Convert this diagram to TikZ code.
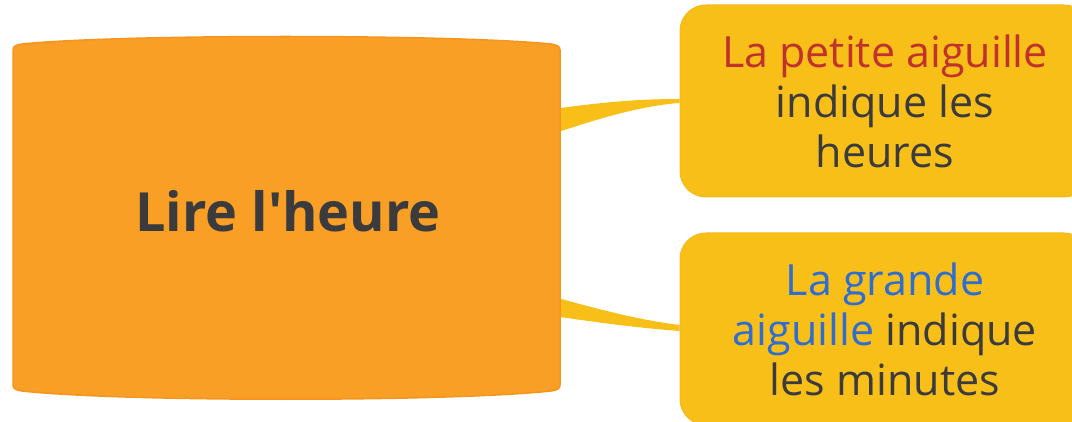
\documentclass[tikz,border=0pt]{standalone}
\usepackage{fontspec}
\setmainfont{Open Sans}
\usetikzlibrary{calc}
\definecolor{orangeF}{HTML}{F99F26}
\definecolor{orangeD}{HTML}{F6951E}
\definecolor{boxY}{HTML}{F8BF19}
\definecolor{boxD}{HTML}{F5BA1C}
\definecolor{txt}{HTML}{3B3B3D}
\definecolor{redT}{HTML}{C2322C}
\definecolor{blueT}{HTML}{2F6DD0}
\begin{document}
\begin{tikzpicture}[x=1pt,y=-1pt,
  box/.style={rounded corners=26pt, minimum width=410pt, minimum height=192pt,
    fill=boxY, draw=boxD, line width=1pt, align=center, text=txt,
    font=\fontsize{43}{50}\selectfont, inner sep=0pt},
  link/.style={fill=boxY},
  central/.style={fill=orangeF, draw=orangeD, line width=1.5pt},
  ctext/.style={font=\bfseries\fontsize{54}{60}\selectfont, text=txt, anchor=base, inner sep=0pt}]
\useasboundingbox (0,0) rectangle (1072,422);
\coordinate (cR) at (560,217);
\node[box] (b1) at (885,101) {{\color{redT}La petite aiguille}\\indique les\\heures};
\node[box] (b2) at (885,329) {{\color{blueT}La grande}\\{\color{blueT}aiguille} indique\\les minutes};
% connectors
\fill[link] ($(cR)+(-20,-106)$) .. controls ($(cR)+(40,-115)$) and ($(b1.west)+(-40,-2)$) .. ($(b1.west)+(0,-2)$)
  -- ($(b1.west)+(0,2)$) .. controls ($(b1.west)+(-40,5)$) and ($(cR)+(40,-99)$) .. ($(cR)+(-20,-79)$) -- cycle;
\fill[link] ($(cR)+(-20,76)$) .. controls ($(cR)+(40,93)$) and ($(b2.west)+(-40,-9)$) .. ($(b2.west)+(0,-4)$)
  -- ($(b2.west)+(0,2)$) .. controls ($(b2.west)+(-40,-1)$) and ($(cR)+(40,106)$) .. ($(cR)+(-20,97)$) -- cycle;
% central shape
\path[central] (13,50) .. controls (13,46) and (16,45) .. (22,44)
  .. controls (120,34) and (450,34) .. (551,44)
  .. controls (557,45) and (560,46) .. (560,50) -- (560,385)
  .. controls (560,389) and (557,390) .. (551,391)
  .. controls (450,402) and (120,402) .. (22,391)
  .. controls (16,390) and (13,389) .. (13,385) -- cycle;
\node[ctext] (c) at (288,232) {Lire l\textquotesingle heure};
\end{tikzpicture}
\end{document}
